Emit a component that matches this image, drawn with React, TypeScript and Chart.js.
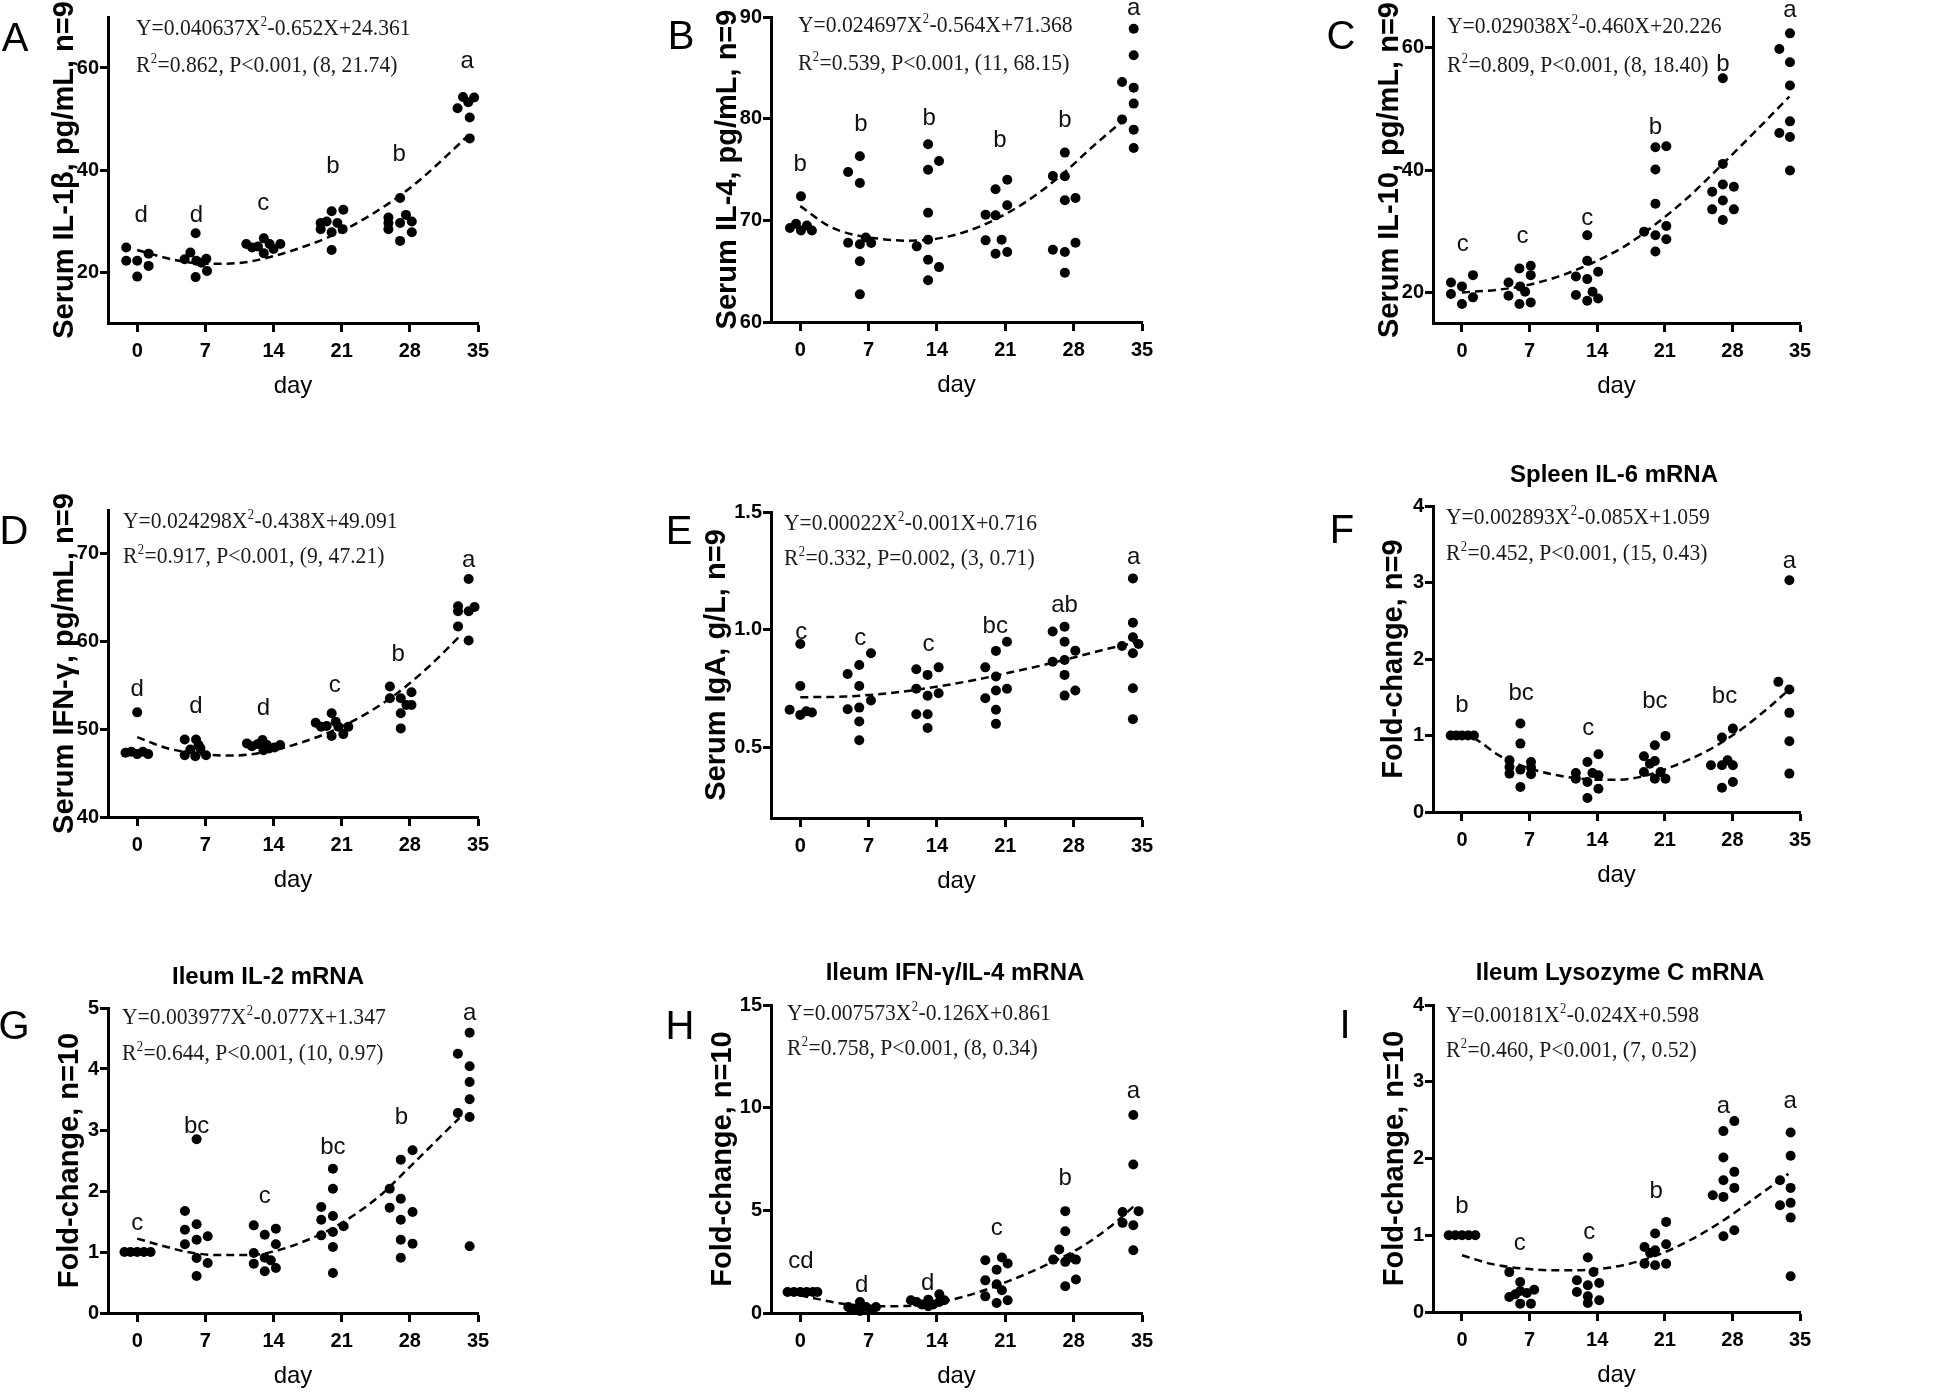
import React, { useEffect, useRef } from "react";
import { Chart, registerables } from "chart.js";

Chart.register(...registerables);

const SANS = '"Liberation Sans", Arial, Helvetica, sans-serif';
const SERIF = '"Liberation Serif", "Times New Roman", serif';

type Pt = [number, number];
type Tag = [number, number, string];

const dayTicks = [0, 7, 14, 21, 28, 35];

// ---------- A: Serum IL-1β ----------
const il1bPoints: Pt[] = [
  [-1.13, 24.8], [-1.13, 22.2], [0, 22.2], [0, 19.1], [1.17, 23.6], [1.17, 21.2],
  [4.87, 22.5], [5.46, 23.8], [6.0, 27.6], [6.07, 22.2], [6.0, 19.0], [7.1, 22.6], [7.17, 20.2], [6.6, 21.8],
  [11.2, 25.5], [11.8, 24.8], [12.4, 25.0], [13.0, 26.6], [13.0, 23.7], [13.6, 25.5], [14.0, 24.5], [14.7, 25.5],
  [18.84, 29.6], [18.84, 28.4], [19.46, 29.9], [19.97, 31.9], [19.97, 24.3], [20.56, 29.6], [21.17, 32.2], [21.1, 28.4], [19.97, 27.8],
  [25.8, 30.7], [25.8, 29.6], [25.8, 28.4], [27.0, 34.5], [27.0, 29.6], [27.0, 26.1], [27.6, 31.2], [28.2, 29.9], [28.2, 27.8],
  [32.9, 52.1], [33.46, 54.3], [34.0, 53.3], [34.15, 50.3], [34.15, 46.2], [34.6, 54.2],
];
const il1bCurve: Pt[] = [
  [0, 24.3], [4, 22.3], [7, 21.6], [10, 21.7], [14, 23.1], [17, 24.9], [19.5, 26.7],
  [22, 29.0], [24.5, 31.8], [27, 35.0], [29, 38.0], [31, 41.4], [33.9, 46.6],
];
const il1bTags: Tag[] = [[0.4, 31.05, "d"], [6.07, 31.2, "d"], [12.94, 33.4, "c"], [20.1, 40.7, "b"], [26.9, 43.1, "b"], [33.9, 61.3, "a"]];
const il1bTicks = [20, 40, 60];

// ---------- B: Serum IL-4 ----------
const il4Points: Pt[] = [
  [-1.06, 69.25], [-0.44, 69.67], [0.07, 69.0], [0.68, 69.5], [1.19, 69.0], [0.07, 72.36],
  [4.9, 74.75], [6.1, 76.3], [6.1, 73.67], [4.9, 67.8], [6.1, 67.64], [6.71, 68.3], [7.26, 67.77], [6.1, 65.97], [6.1, 62.72],
  [13.09, 77.48], [13.09, 74.98], [14.21, 75.84], [13.09, 70.75], [11.93, 67.44], [13.09, 68.1], [13.09, 66.13], [14.21, 65.4], [13.09, 64.1],
  [18.98, 70.56], [20.0, 73.05], [20.0, 70.49], [21.2, 74.0], [21.2, 71.48], [18.98, 68.03], [20.62, 68.1], [20.0, 66.72], [21.2, 66.89],
  [27.1, 76.66], [25.87, 74.36], [27.1, 74.33], [27.1, 71.97], [28.19, 72.2], [28.19, 67.8], [25.87, 67.11], [27.1, 66.89], [27.1, 64.85],
  [34.15, 88.85], [34.15, 86.23], [32.96, 83.6], [34.15, 83.05], [34.15, 81.48], [32.96, 79.93], [34.15, 78.92], [34.15, 77.11],
];
const il4Curve: Pt[] = [
  [0, 71.4], [3, 69.4], [5.4, 68.6], [8, 68.2], [11, 68.0], [14, 68.2], [17, 68.9],
  [20, 70.1], [23.4, 72.0], [26.8, 74.5], [30, 77.3], [33.3, 80.0],
];
const il4Tags: Tag[] = [[0, 75.5, "b"], [6.2, 79.4, "b"], [13.2, 80.0, "b"], [20.45, 77.9, "b"], [27.1, 79.8, "b"], [34.15, 90.8, "a"]];
const il4Ticks = [60, 70, 80, 90];

// ---------- C: Serum IL-10 ----------
const il10Points: Pt[] = [
  [-1.14, 21.63], [-1.14, 19.73], [0, 20.98], [0, 18.1], [1.14, 22.82], [1.14, 19.19],
  [4.82, 21.63], [4.82, 19.46], [5.95, 23.9], [6.02, 20.98], [6.54, 20.1], [7.12, 24.34], [7.12, 22.82], [5.95, 18.1], [7.12, 18.37],
  [12.97, 29.34], [12.97, 25.16], [11.8, 22.6], [12.97, 22.17], [14.1, 23.36], [11.8, 19.57], [13.52, 20.1], [12.97, 18.64], [14.1, 19.0],
  [20.03, 43.72], [21.16, 43.88], [20.03, 40.08], [20.03, 34.49], [18.86, 29.93], [21.16, 30.85], [20.03, 29.34], [21.16, 28.68], [20.03, 26.68],
  [27.01, 55.0], [27.01, 41.0], [25.91, 36.44], [27.01, 37.64], [28.15, 37.26], [27.01, 35.03], [25.91, 33.57], [28.15, 33.57], [27.01, 31.83],
  [33.96, 62.33], [32.86, 59.78], [33.96, 57.61], [33.96, 53.81], [33.96, 47.95], [32.86, 46.05], [33.96, 45.4], [33.96, 39.92],
];
const il10Curve: Pt[] = [
  [0, 20.0], [3.5, 20.4], [6.5, 21.1], [9.8, 22.5], [13.2, 24.6], [16.7, 27.4],
  [20.1, 31.2], [23.6, 35.8], [27, 41.0], [30.5, 46.5], [33.9, 52.0],
];
const il10Tags: Tag[] = [[0.07, 27.87, "c"], [6.26, 29.1, "c"], [12.97, 32.05, "c"], [20.03, 47.0, "b"], [27.01, 57.3, "b"], [33.96, 66.1, "a"]];
const il10Ticks = [20, 40, 60];

// ---------- D: Serum IFN-γ ----------
const ifnPoints: Pt[] = [
  [-1.2, 47.32], [-0.61, 47.43], [0, 47.17], [0.58, 47.43], [1.13, 47.17], [0, 51.93],
  [4.88, 48.84], [6.04, 48.84], [5.46, 47.7], [6.49, 47.82], [4.88, 47.05], [5.97, 46.94], [7.07, 47.05], [6.3, 48.2],
  [11.27, 48.39], [11.78, 48.08], [12.39, 48.31], [12.87, 48.77], [13.32, 48.2], [13.55, 47.82], [14.1, 47.93], [14.68, 48.2], [12.97, 47.62],
  [18.33, 50.75], [18.88, 50.29], [19.46, 50.37], [19.97, 51.82], [19.97, 49.23], [20.38, 50.87], [20.66, 50.29], [21.17, 49.45], [21.68, 50.29],
  [25.95, 54.87], [25.95, 53.53], [27.07, 53.53], [27.07, 51.82], [27.07, 50.1], [28.17, 54.22], [28.17, 52.77], [27.65, 52.77],
  [34.04, 67.14], [32.95, 64.02], [32.95, 63.45], [32.95, 61.73], [34.04, 63.45], [34.65, 63.94], [34.04, 60.13],
];
const ifnCurve: Pt[] = [
  [0, 49.1], [2.9, 47.9], [6.3, 47.2], [9.7, 47.0], [13.1, 47.4], [16.6, 48.4],
  [20, 49.8], [23.4, 51.7], [26.8, 54.2], [30.2, 57.4], [33.3, 60.8],
];
const ifnTags: Tag[] = [[0, 54.5, "d"], [6.04, 52.6, "d"], [12.97, 52.4, "d"], [20.3, 55.06, "c"], [26.8, 58.5, "b"], [34.04, 69.2, "a"]];
const ifnTicks = [40, 50, 60, 70];

// ---------- E: Serum IgA ----------
const igaPoints: Pt[] = [
  [-1.09, 0.66], [0, 0.939], [0, 0.761], [0, 0.638], [0.61, 0.653], [1.19, 0.648],
  [4.85, 0.812], [6.04, 0.85], [7.24, 0.9], [6.04, 0.761], [4.85, 0.662], [6.04, 0.669], [7.24, 0.699], [6.04, 0.61], [6.04, 0.53],
  [11.88, 0.832], [13.04, 0.808], [14.17, 0.84], [11.88, 0.749], [13.04, 0.719], [14.17, 0.73], [11.88, 0.641], [13.04, 0.641], [13.04, 0.582],
  [18.95, 0.84], [20.04, 0.91], [21.17, 0.949], [20.04, 0.801], [18.95, 0.709], [20.04, 0.742], [21.17, 0.749], [20.04, 0.66], [20.04, 0.6],
  [25.85, 0.992], [27.07, 1.013], [27.07, 0.949], [25.85, 0.864], [27.07, 0.871], [28.17, 0.911], [27.07, 0.808], [27.07, 0.72], [28.17, 0.742],
  [34.07, 1.218], [34.07, 1.03], [34.07, 0.968], [32.95, 0.931], [34.65, 0.939], [34.07, 0.9], [34.07, 0.751], [34.07, 0.62],
];
const igaCurve: Pt[] = [
  [0, 0.713], [4.6, 0.716], [8, 0.726], [11.4, 0.742], [14.9, 0.764], [18.3, 0.79],
  [21.7, 0.82], [25.1, 0.852], [28.5, 0.887], [31.6, 0.92], [34.3, 0.945],
];
const igaTags: Tag[] = [[0.1, 0.99, "c"], [6.14, 0.963, "c"], [13.14, 0.938, "c"], [19.97, 1.015, "bc"], [27.07, 1.105, "ab"], [34.14, 1.306, "a"]];
const igaTicks = [0.5, 1.0, 1.5];

// ---------- F: Spleen IL-6 mRNA ----------
const il6Points: Pt[] = [
  [-1.17, 1.0], [-0.58, 1.0], [0, 1.0], [0.62, 1.0], [1.24, 1.0],
  [6.05, 1.156], [6.05, 0.894], [4.92, 0.676], [4.92, 0.589], [4.92, 0.502], [6.05, 0.554], [7.15, 0.654], [7.15, 0.58], [7.15, 0.493], [6.05, 0.327],
  [12.99, 0.654], [14.13, 0.755], [11.79, 0.51], [11.79, 0.436], [12.99, 0.393], [13.51, 0.51], [14.13, 0.48], [12.99, 0.183], [14.13, 0.305],
  [18.84, 0.728], [19.97, 0.872], [21.07, 0.995], [18.84, 0.523], [19.97, 0.667], [19.46, 0.632], [20.56, 0.523], [19.97, 0.436], [21.07, 0.436],
  [26.92, 0.973], [28.05, 1.09], [25.78, 0.611], [26.92, 0.611], [27.5, 0.676], [28.05, 0.611], [28.05, 0.393], [26.92, 0.318],
  [33.9, 3.03], [32.76, 1.701], [33.9, 1.601], [33.9, 1.296], [33.9, 0.925], [33.9, 0.502],
];
const il6Curve: Pt[] = [
  [0, 1.04], [1.7, 0.93], [3.7, 0.75], [6.5, 0.59], [9.9, 0.48], [13.3, 0.425], [16.1, 0.42],
  [18.8, 0.47], [21.9, 0.6], [25.4, 0.8], [28.8, 1.07], [31.9, 1.38], [33.6, 1.57],
];
const il6Tags: Tag[] = [[0, 1.396, "b"], [6.12, 1.557, "bc"], [13.07, 1.09, "c"], [19.97, 1.44, "bc"], [27.18, 1.505, "bc"], [33.9, 3.28, "a"]];
const il6Ticks = [0, 1, 2, 3, 4];

// ---------- G: Ileum IL-2 mRNA ----------
const il2Points: Pt[] = [
  [-1.31, 1], [-0.69, 1], [0, 1], [0.69, 1], [1.38, 1],
  [4.9, 1.672], [4.9, 1.366], [4.9, 1.126], [6.1, 1.454], [6.1, 1.202], [7.24, 1.257], [6.1, 0.902], [7.24, 0.82], [6.1, 0.607], [6.1, 2.847],
  [11.97, 1.437], [13.1, 1.284], [14.24, 1.383], [14.24, 1.126], [11.97, 0.984], [13.1, 0.907], [13.72, 0.863], [11.97, 0.809], [13.1, 0.683], [14.24, 0.738],
  [20.1, 2.366], [20.1, 2.038], [18.9, 1.738], [18.9, 1.53], [20.1, 1.59], [21.2, 1.421], [20.1, 1.328], [18.9, 1.273], [20.1, 1.082], [20.1, 0.656],
  [28.28, 2.667], [27.07, 2.514], [25.93, 2.038], [27.07, 1.874], [25.93, 1.727], [27.07, 1.53], [28.28, 1.656], [27.07, 1.202], [28.28, 1.137], [27.07, 0.907],
  [34.14, 4.596], [32.93, 4.251], [34.14, 4.044], [34.14, 3.787], [34.14, 3.503], [32.93, 3.279], [34.14, 3.213], [34.14, 1.093],
];
const il2Curve: Pt[] = [
  [0, 1.22], [2.4, 1.11], [5.2, 1.0], [8.3, 0.95], [11.7, 0.95], [14.5, 1.03], [16.9, 1.16],
  [19.7, 1.36], [22.4, 1.62], [25.2, 1.96], [27.9, 2.38], [30.7, 2.82], [33.1, 3.2],
];
const il2Tags: Tag[] = [[0, 1.464, "c"], [6.1, 3.06, "bc"], [13.1, 1.913, "c"], [20.1, 2.72, "bc"], [27.14, 3.21, "b"], [34.14, 4.907, "a"]];
const il2Ticks = [0, 1, 2, 3, 4, 5];

// ---------- H: Ileum IFN-γ/IL-4 mRNA ----------
const ratioPoints: Pt[] = [
  [-1.3, 1.02], [-0.65, 1.02], [0, 1.02], [0.65, 1.02], [1.3, 1.02], [1.75, 1.02],
  [6.11, 0.54], [4.92, 0.29], [5.53, 0.21], [6.73, 0.29], [7.27, 0.16], [6.11, 0.1], [7.75, 0.29], [5.26, 0.16],
  [11.33, 0.62], [11.92, 0.54], [12.46, 0.42], [13.11, 0.65], [13.62, 0.42], [14.24, 0.91], [14.24, 0.54], [13.11, 0.33], [14.75, 0.62],
  [18.95, 2.57], [20.11, 2.11], [20.65, 2.7], [21.24, 2.41], [18.95, 1.59], [20.11, 1.4], [18.95, 0.81], [20.65, 1.11], [21.24, 0.62], [20.11, 0.49],
  [27.14, 4.96], [27.14, 3.98], [26.53, 3.09], [25.91, 2.6], [27.14, 2.49], [28.23, 2.6], [27.72, 2.7], [28.23, 1.63], [27.14, 1.3],
  [34.11, 9.64], [34.11, 7.23], [33.01, 4.92], [34.65, 4.96], [33.01, 4.39], [34.11, 4.27], [34.11, 3.06],
];
const ratioCurve: Pt[] = [
  [0, 0.86], [1.6, 0.7], [4, 0.48], [6.4, 0.35], [9.8, 0.33], [13.2, 0.44], [16.6, 0.78],
  [19.4, 1.2], [21.7, 1.62], [25.1, 2.32], [28.6, 3.16], [32, 4.3], [34.4, 5.3],
];
const ratioTags: Tag[] = [[0.07, 2.49, "cd"], [6.3, 1.35, "d"], [13.04, 1.43, "d"], [20.11, 4.11, "c"], [27.14, 6.55, "b"], [34.11, 10.78, "a"]];
const ratioTicks = [0, 5, 10, 15];

// ---------- I: Ileum Lysozyme C mRNA ----------
const lyzPoints: Pt[] = [
  [-1.38, 1], [-0.69, 1], [0, 1], [0.69, 1], [1.38, 1],
  [4.9, 0.52], [6.03, 0.39], [4.9, 0.196], [5.52, 0.23], [6.03, 0.274], [6.72, 0.248], [7.48, 0.291], [6.03, 0.109], [7.14, 0.109],
  [13.03, 0.709], [11.9, 0.413], [11.9, 0.261], [13.03, 0.348], [13.62, 0.522], [14.21, 0.378], [13.03, 0.204], [13.03, 0.117], [14.21, 0.152],
  [21.14, 1.174], [20.0, 1.022], [18.9, 0.848], [20.0, 0.804], [21.14, 0.883], [19.48, 0.77], [18.9, 0.63], [20.0, 0.609], [21.14, 0.63],
  [28.2, 2.487], [27.07, 2.357], [27.07, 2.013], [28.2, 1.826], [27.07, 1.717], [28.2, 1.617], [25.97, 1.522], [27.07, 1.5], [28.2, 1.065], [27.07, 0.987],
  [34.03, 2.339], [34.03, 2.035], [32.93, 1.717], [34.03, 1.617], [32.93, 1.391], [34.03, 1.422], [34.03, 1.23], [34.03, 0.465],
];
const lyzCurve: Pt[] = [
  [0, 0.74], [2.9, 0.63], [6.4, 0.565], [9.8, 0.543], [13.3, 0.552], [16.7, 0.61],
  [20.2, 0.74], [23.6, 0.935], [27.1, 1.196], [30.5, 1.5], [33.8, 1.8],
];
const lyzTags: Tag[] = [[0, 1.37, "b"], [5.97, 0.9, "c"], [13.17, 1.035, "c"], [20.1, 1.578, "b"], [27.07, 2.683, "a"], [33.97, 2.739, "a"]];
const lyzTicks = [0, 1, 2, 3, 4];

// ---------- panel definitions ----------
interface PanelDef {
  letter: string;
  yTitle: string;
  title?: string;
  eq: [string, string, string];
  points: Pt[];
  curve: Pt[];
  tags: Tag[];
  yTicks: number[];
  yRange: [number, number];
  decimals: number;
}

const panels: PanelDef[] = [
  { letter: "A", yTitle: "Serum IL-1β, pg/mL, n=9", eq: ["Y=0.040637X", "-0.652X+24.361", "=0.862, P<0.001, (8, 21.74)"], points: il1bPoints, curve: il1bCurve, tags: il1bTags, yTicks: il1bTicks, yRange: [10, 70], decimals: 0 },
  { letter: "B", yTitle: "Serum IL-4, pg/mL, n=9", eq: ["Y=0.024697X", "-0.564X+71.368", "=0.539, P<0.001, (11, 68.15)"], points: il4Points, curve: il4Curve, tags: il4Tags, yTicks: il4Ticks, yRange: [60, 90], decimals: 0 },
  { letter: "C", yTitle: "Serum IL-10, pg/mL, n=9", eq: ["Y=0.029038X", "-0.460X+20.226", "=0.809, P<0.001, (8, 18.40)"], points: il10Points, curve: il10Curve, tags: il10Tags, yTicks: il10Ticks, yRange: [15, 65], decimals: 0 },
  { letter: "D", yTitle: "Serum IFN-γ, pg/mL, n=9", eq: ["Y=0.024298X", "-0.438X+49.091", "=0.917, P<0.001, (9, 47.21)"], points: ifnPoints, curve: ifnCurve, tags: ifnTags, yTicks: ifnTicks, yRange: [40, 75], decimals: 0 },
  { letter: "E", yTitle: "Serum IgA, g/L, n=9", eq: ["Y=0.00022X", "-0.001X+0.716", "=0.332, P=0.002, (3, 0.71)"], points: igaPoints, curve: igaCurve, tags: igaTags, yTicks: igaTicks, yRange: [0.2, 1.5], decimals: 1 },
  { letter: "F", yTitle: "Fold-change, n=9", title: "Spleen IL-6 mRNA", eq: ["Y=0.002893X", "-0.085X+1.059", "=0.452, P<0.001, (15, 0.43)"], points: il6Points, curve: il6Curve, tags: il6Tags, yTicks: il6Ticks, yRange: [0, 4], decimals: 0 },
  { letter: "G", yTitle: "Fold-change, n=10", title: "Ileum IL-2 mRNA", eq: ["Y=0.003977X", "-0.077X+1.347", "=0.644, P<0.001, (10, 0.97)"], points: il2Points, curve: il2Curve, tags: il2Tags, yTicks: il2Ticks, yRange: [0, 5], decimals: 0 },
  { letter: "H", yTitle: "Fold-change, n=10", title: "Ileum IFN-γ/IL-4 mRNA", eq: ["Y=0.007573X", "-0.126X+0.861", "=0.758, P<0.001, (8, 0.34)"], points: ratioPoints, curve: ratioCurve, tags: ratioTags, yTicks: ratioTicks, yRange: [0, 15], decimals: 0 },
  { letter: "I", yTitle: "Fold-change, n=10", title: "Ileum Lysozyme C mRNA", eq: ["Y=0.00181X", "-0.024X+0.598", "=0.460, P<0.001, (7, 0.52)"], points: lyzPoints, curve: lyzCurve, tags: lyzTags, yTicks: lyzTicks, yRange: [0, 4], decimals: 0 },
];

// ---------- layout (page pixels) ----------
const COL_LEFT = [0, 663, 1325];
const COL_WIDTH = [663, 662, 621];
const PLOT_RIGHT = [478, 1142, 1800];
const AXIS_W = 108;
const TOP_PAD = 60;
const X_AXIS_H = 90;
const Y_TITLE_SIZE = 29;

interface PanelLayout {
  col: number;
  plotTop: number;
  plotBottom: number;
  letterAt: [number, number];
  eqAt: [number, number, number];
  yTitleX: number;
  titleAt?: [number, number];
}

const layouts: PanelLayout[] = [
  { col: 0, plotTop: 17, plotBottom: 323, letterAt: [15, 51], eqAt: [136, 35, 72], yTitleX: 65 },
  { col: 1, plotTop: 17, plotBottom: 322, letterAt: [681, 49], eqAt: [798, 32, 70], yTitleX: 65 },
  { col: 2, plotTop: 17, plotBottom: 323, letterAt: [1341, 49], eqAt: [1447, 33, 72], yTitleX: 65 },
  { col: 0, plotTop: 510, plotBottom: 817, letterAt: [14, 544], eqAt: [123, 528, 563], yTitleX: 65 },
  { col: 1, plotTop: 512, plotBottom: 818, letterAt: [679, 544], eqAt: [784, 530, 565], yTitleX: 54 },
  { col: 2, plotTop: 506, plotBottom: 812, letterAt: [1342, 543], eqAt: [1446, 524, 560], yTitleX: 69, titleAt: [1614, 475] },
  { col: 0, plotTop: 1008, plotBottom: 1313, letterAt: [14, 1039], eqAt: [122, 1024, 1060], yTitleX: 70, titleAt: [268, 977] },
  { col: 1, plotTop: 1005, plotBottom: 1313, letterAt: [680, 1039], eqAt: [787, 1020, 1055], yTitleX: 60, titleAt: [955, 973] },
  { col: 2, plotTop: 1005, plotBottom: 1312, letterAt: [1345, 1038], eqAt: [1446, 1022, 1057], yTitleX: 70, titleAt: [1620, 973] },
];

function drawEq(ctx: CanvasRenderingContext2D, x: number, y: number, pre: string, post: string) {
  ctx.save();
  ctx.translate(x, y);
  ctx.scale(0.9, 1);
  ctx.fillStyle = "#1a1a1a";
  ctx.textAlign = "left";
  ctx.textBaseline = "alphabetic";
  ctx.font = `24px ${SERIF}`;
  ctx.fillText(pre, 0, 0);
  let w = ctx.measureText(pre).width;
  ctx.font = `14px ${SERIF}`;
  ctx.fillText("2", w + 0.5, -9);
  w += ctx.measureText("2").width + 1;
  ctx.font = `24px ${SERIF}`;
  ctx.fillText(post, w, 0);
  ctx.restore();
}

function PanelChart({ def, lay }: { def: PanelDef; lay: PanelLayout }) {
  const ref = useRef<HTMLCanvasElement | null>(null);
  const left = COL_LEFT[lay.col];
  const width = COL_WIDTH[lay.col];
  const top = lay.plotTop - TOP_PAD;
  const height = TOP_PAD + (lay.plotBottom - lay.plotTop) + X_AXIS_H;
  const padRight = width - (PLOT_RIGHT[lay.col] - left);

  useEffect(() => {
    const canvas = ref.current;
    if (!canvas) return;
    const textPlugin = {
      id: "panelText",
      afterDraw(chart: any) {
        const ctx = chart.ctx as CanvasRenderingContext2D;
        const xs = chart.scales.x;
        const ys = chart.scales.y;
        ctx.save();
        ctx.fillStyle = "#000";
        ctx.textAlign = "center";
        ctx.textBaseline = "alphabetic";
        ctx.font = `40px ${SANS}`;
        ctx.fillText(def.letter, lay.letterAt[0] - left, lay.letterAt[1] - top);
        if (def.title && lay.titleAt) {
          ctx.font = `bold 24px ${SANS}`;
          ctx.textBaseline = "middle";
          ctx.fillText(def.title, lay.titleAt[0] - left, lay.titleAt[1] - top);
        }
        ctx.font = `24px ${SANS}`;
        ctx.textBaseline = "middle";
        ctx.fillStyle = "#111";
        for (const [x, y, t] of def.tags) {
          ctx.fillText(t, xs.getPixelForValue(x), ys.getPixelForValue(y));
        }
        ctx.restore();
        drawEq(ctx, lay.eqAt[0] - left, lay.eqAt[1] - top, def.eq[0], def.eq[1]);
        drawEq(ctx, lay.eqAt[0] - left, lay.eqAt[2] - top, "R", def.eq[2]);
      },
    };

    const gridCfg = {
      display: true,
      drawOnChartArea: false,
      drawTicks: true,
      color: "#000",
      tickColor: "#000",
      tickWidth: 3,
    };

    const chart = new Chart(canvas, {
      type: "line",
      data: {
        datasets: [
          {
            data: def.curve.map(([x, y]) => ({ x, y })),
            borderColor: "#000",
            borderWidth: 2.5,
            borderDash: [8, 5],
            pointRadius: 0,
            cubicInterpolationMode: "monotone",
            fill: false,
            clip: false,
          } as any,
          {
            data: def.points.map(([x, y]) => ({ x, y })),
            showLine: false,
            pointRadius: 5,
            pointHoverRadius: 5,
            pointBackgroundColor: "#000",
            pointBorderColor: "#000",
            pointBorderWidth: 0,
            clip: false,
          } as any,
        ],
      },
      options: {
        responsive: false,
        animation: false,
        events: [],
        devicePixelRatio: 1,
        layout: { padding: { top: TOP_PAD, right: padRight, left: 0, bottom: 0 } },
        plugins: { legend: { display: false }, tooltip: { enabled: false }, title: { display: false } },
        scales: {
          x: {
            type: "linear",
            min: -3,
            max: 35,
            afterBuildTicks: (s: any) => {
              s.ticks = dayTicks.map((v) => ({ value: v }));
            },
            afterFit: (s: any) => {
              s.height = X_AXIS_H;
            },
            grid: { ...gridCfg, tickLength: 9 },
            border: { display: true, color: "#000", width: 3 },
            ticks: {
              color: "#000",
              autoSkip: false,
              maxRotation: 0,
              padding: 7,
              font: { family: SANS, size: 20, weight: "bold" },
              callback: (v: any) => String(v),
            },
            title: {
              display: true,
              text: "day",
              color: "#000",
              font: { family: SANS, size: 24 },
              padding: { top: 0, bottom: 12.6 },
            },
          },
          y: {
            type: "linear",
            min: def.yRange[0],
            max: def.yRange[1],
            afterBuildTicks: (s: any) => {
              s.ticks = def.yTicks.map((v) => ({ value: v }));
            },
            afterFit: (s: any) => {
              s.width = AXIS_W;
            },
            grid: { ...gridCfg, tickLength: 8 },
            border: { display: true, color: "#000", width: 3 },
            ticks: {
              color: "#000",
              autoSkip: false,
              padding: 1,
              font: { family: SANS, size: 20, weight: "bold" },
              callback: (v: any) => Number(v).toFixed(def.decimals),
            },
            title: {
              display: true,
              text: def.yTitle,
              color: "#000",
              font: { family: SANS, size: Y_TITLE_SIZE, weight: "bold" },
              padding: { top: lay.yTitleX - (Y_TITLE_SIZE * 1.2) / 2, bottom: 0 },
            },
          },
        },
      } as any,
      plugins: [textPlugin],
    });
    return () => chart.destroy();
  }, [def, lay]);

  return (
    <canvas
      ref={ref}
      width={width}
      height={height}
      style={{ position: "absolute", left, top, width, height, display: "block" }}
    />
  );
}

export default function App() {
  return (
    <div style={{ position: "absolute", left: 0, top: 0, width: 1946, height: 1392, overflow: "hidden", background: "#fff" }}>
      {panels.map((p, i) => (
        <PanelChart key={p.letter} def={p} lay={layouts[i]} />
      ))}
    </div>
  );
}
